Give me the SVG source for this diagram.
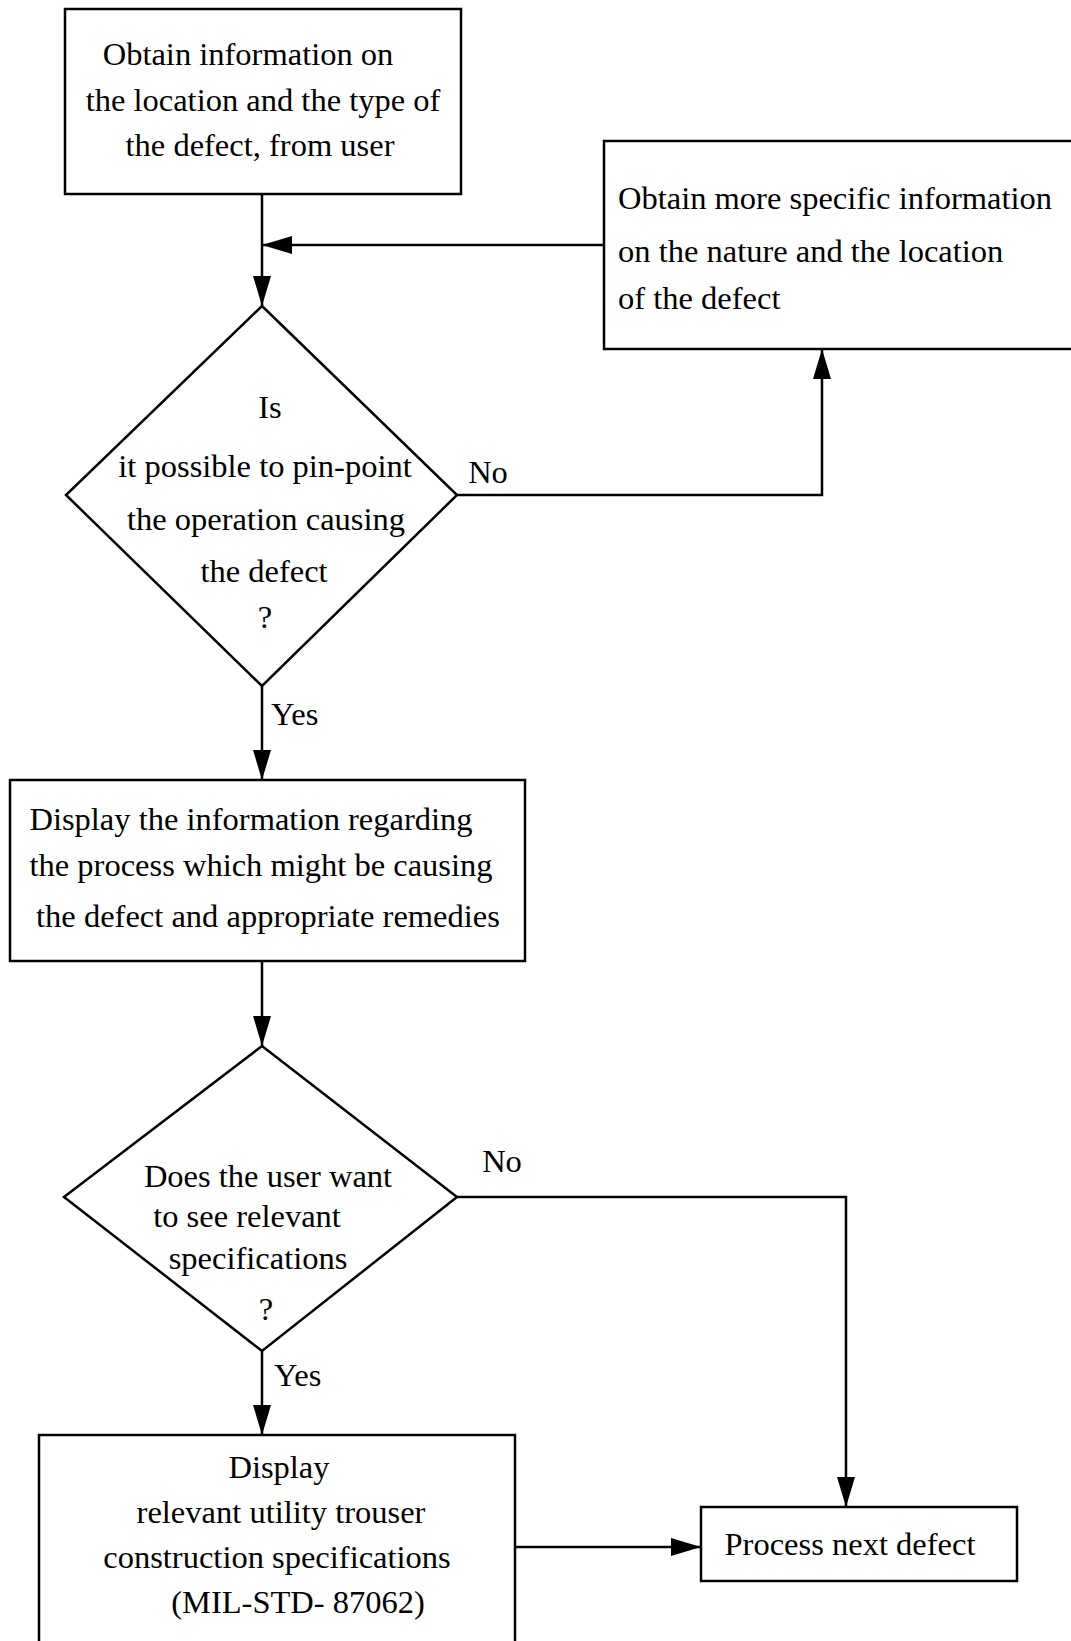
<svg xmlns="http://www.w3.org/2000/svg" width="1071" height="1641" viewBox="0 0 1071 1641">
<style>
.box{fill:none;stroke:#000;stroke-width:2.5}
.ln{fill:none;stroke:#000;stroke-width:2.5}
text{font-family:"Liberation Serif","Times New Roman",serif;font-size:32.5px;fill:#000}
.c{text-anchor:middle}
</style>
<defs>
<marker id="ah" markerUnits="userSpaceOnUse" markerWidth="30" markerHeight="18" refX="30" refY="9" orient="auto">
<path d="M0,0 L30,9 L0,18 z" fill="#000"/>
</marker>
</defs>
<rect width="1071" height="1641" fill="#fff"/>
<g id="connectors">
<path class="ln" d="M262,194 V306" marker-end="url(#ah)"/>
<path class="ln" d="M604,245 H262" marker-end="url(#ah)"/>
<path class="ln" d="M457,495 H822 V349" marker-end="url(#ah)"/>
<path class="ln" d="M262,686 V780" marker-end="url(#ah)"/>
<path class="ln" d="M262,961 V1046" marker-end="url(#ah)"/>
<path class="ln" d="M457,1197 H846 V1507" marker-end="url(#ah)"/>
<path class="ln" d="M262,1351 V1435" marker-end="url(#ah)"/>
<path class="ln" d="M515,1547 H701" marker-end="url(#ah)"/>
<text x="488" y="483" class="c">No</text>
<text x="271" y="725">Yes</text>
<text x="502" y="1172" class="c">No</text>
<text x="274" y="1386">Yes</text>
</g>
<g id="n1">
<rect class="box" x="65" y="9" width="396" height="185"/>
<text x="248" y="65" class="c">Obtain information on</text>
<text x="263" y="111" class="c">the location and the type of</text>
<text x="260" y="156" class="c">the defect, from user</text>
</g>
<g id="n2">
<rect class="box" x="604" y="141" width="480" height="208"/>
<text x="618" y="209">Obtain more specific information</text>
<text x="618" y="262">on the nature and the location</text>
<text x="618" y="309">of the defect</text>
</g>
<g id="n3">
<polygon class="box" points="262,306 457,495 262,686 66,495"/>
<text x="270" y="418" class="c">Is</text>
<text x="265" y="477" class="c">it possible to pin-point</text>
<text x="266" y="530" class="c">the operation causing</text>
<text x="264" y="582" class="c">the defect</text>
<text x="265" y="628" class="c">?</text>
</g>
<g id="n4">
<rect class="box" x="10" y="780" width="515" height="181"/>
<text x="251" y="830" class="c">Display the information regarding</text>
<text x="261" y="876" class="c">the process which might be causing</text>
<text x="268" y="927" class="c">the defect and appropriate remedies</text>
</g>
<g id="n5">
<polygon class="box" points="262,1046 457,1197 262,1351 64,1197"/>
<text x="268" y="1187" class="c">Does the user want</text>
<text x="247" y="1227" class="c">to see relevant</text>
<text x="258" y="1269" class="c">specifications</text>
<text x="266" y="1320" class="c">?</text>
</g>
<g id="n6">
<rect class="box" x="39" y="1435" width="476" height="220"/>
<text x="279" y="1478" class="c">Display</text>
<text x="281" y="1523" class="c">relevant utility trouser</text>
<text x="277" y="1568" class="c">construction specifications</text>
<text x="298" y="1613" class="c">(MIL-STD- 87062)</text>
</g>
<g id="n7">
<rect class="box" x="701" y="1507" width="316" height="74"/>
<text x="850" y="1555" class="c">Process next defect</text>
</g>
</svg>
